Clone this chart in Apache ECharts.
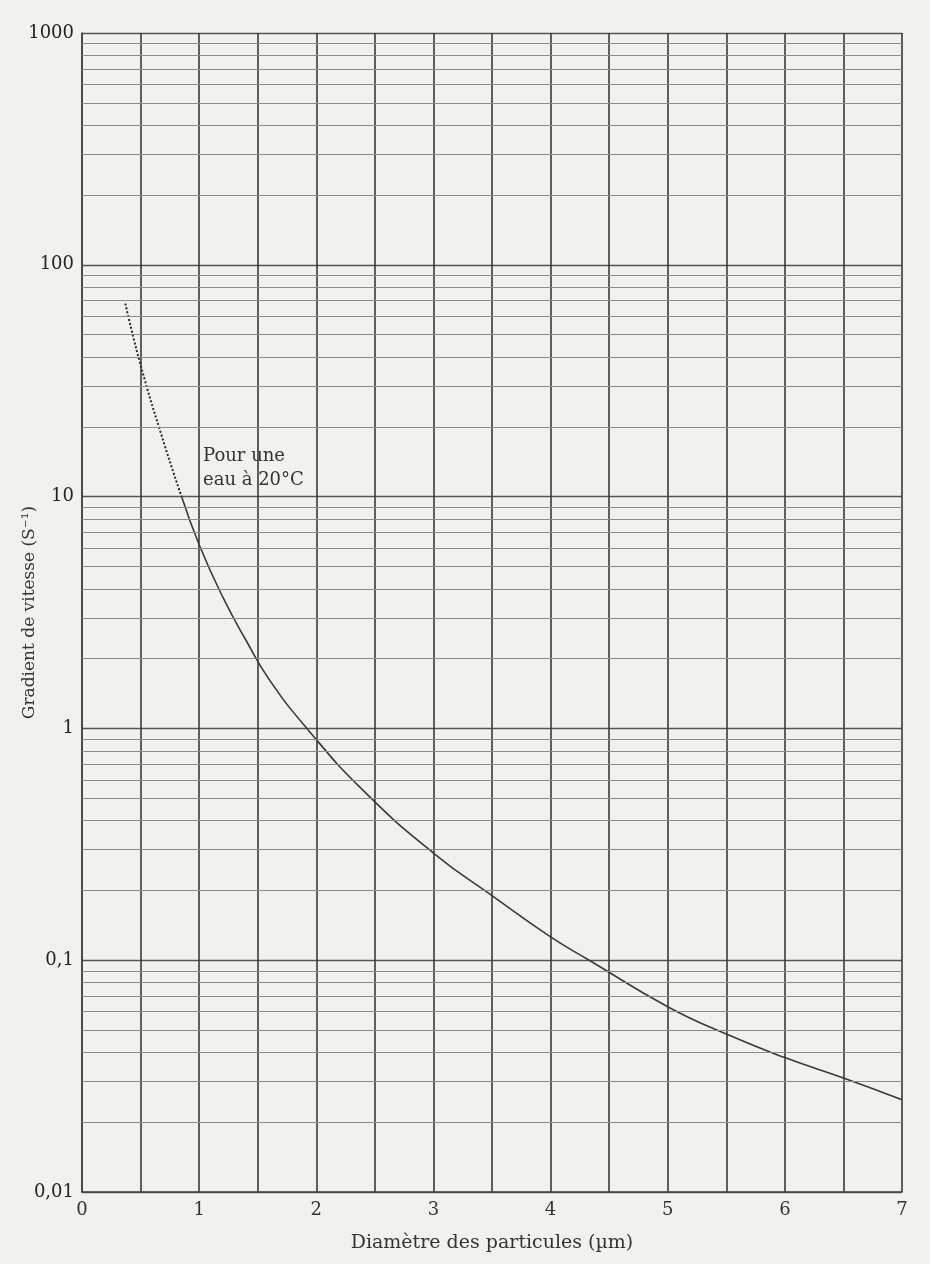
<!DOCTYPE html>
<html>
<head>
<meta charset="utf-8">
<script src="https://cdn.jsdelivr.net/npm/echarts@6/dist/echarts.min.js"></script>
<style>
  html, body { margin: 0; padding: 0; background: #f1f1ef; }
  #main { width: 930px; height: 1264px; }
</style>
</head>
<body>
<div id="main"></div>
<script>
// curve (diameter in µm, gradient in s^-1)
var dottedX = [0.37, 0.5, 0.7, 0.85];
var dottedY = [68, 37, 17, 10];
var curveX = [0.85, 1.0, 1.2, 1.4, 1.6, 1.92, 2.4, 3.0, 3.5, 4.0, 4.33, 5.0, 5.5, 6.0, 6.5, 7.0];
var curveY = [10, 6.2, 3.7, 2.4, 1.62, 1.0, 0.54, 0.29, 0.19, 0.126, 0.1, 0.063, 0.048, 0.038, 0.031, 0.025];
var decades = [0.01, 0.1, 1, 10, 100];

var chartDom = document.getElementById('main');
var myChart = echarts.init(chartDom);
var option;

// minor horizontal rules 2..9 inside each decade (paper grid)
var minorLines = [];
decades.forEach(function (d) {
    for (var k = 2; k <= 9; k++) {
        minorLines.push({ yAxis: +(d * k).toPrecision(3) });
    }
});

function pairs(xs, ys) {
    return xs.map(function (x, i) { return [x, ys[i]]; });
}

var serif = '"DejaVu Serif", "Liberation Serif", serif';

option = {
    backgroundColor: '#f1f1ef',
    animation: false,
    grid: {
        left: 82,
        right: 28,
        top: 33,
        bottom: 72,
        outerBoundsMode: 'none',
        containLabel: false
    },
    xAxis: {
        type: 'value',
        min: 0,
        max: 7,
        interval: 0.5,
        name: 'Diamètre des particules (µm)',
        nameLocation: 'middle',
        nameGap: 42,
        nameMoveOverlap: false,
        nameTextStyle: { fontFamily: serif, fontSize: 19, color: '#333' },
        axisLine: { show: true, lineStyle: { color: '#444', width: 1.5 } },
        axisTick: { show: false },
        axisLabel: {
            fontFamily: serif,
            fontSize: 18,
            color: '#333',
            margin: 9,
            formatter: function (v) {
                return Number.isInteger(v) ? String(v) : '';
            }
        },
        splitLine: { show: true, lineStyle: { color: '#3a3a3a', width: 1.6 } }
    },
    yAxis: {
        type: 'log',
        logBase: 10,
        min: 0.01,
        max: 1000,
        name: 'Gradient de vitesse (S⁻¹)',
        nameLocation: 'middle',
        nameGap: 44,
        nameMoveOverlap: false,
        nameTextStyle: { fontFamily: serif, fontSize: 17, color: '#333' },
        axisLine: { show: true, lineStyle: { color: '#444', width: 1.5 } },
        axisTick: { show: false },
        axisLabel: {
            fontFamily: serif,
            fontSize: 18,
            color: '#222',
            margin: 8,
            formatter: function (v) {
                return String(v).replace('.', ',');
            }
        },
        splitLine: { show: true, lineStyle: { color: '#555', width: 1.4 } }
    },
    graphic: [
        {
            type: 'text',
            left: 203,
            top: 444,
            style: {
                text: 'Pour une\neau à 20°C',
                font: '18px ' + serif,
                fill: '#333',
                lineHeight: 24
            }
        }
    ],
    series: [
        {
            name: 'grille',
            type: 'line',
            data: [],
            silent: true,
            markLine: {
                silent: true,
                symbol: 'none',
                label: { show: false },
                lineStyle: { color: '#8a8a8a', width: 1, type: 'solid' },
                data: minorLines
            }
        },
        {
            name: 'courbe pointillée',
            type: 'line',
            data: pairs(dottedX, dottedY),
            smooth: true,
            symbol: 'none',
            lineStyle: { color: '#2a2a2a', width: 2, type: [2, 2] }
        },
        {
            name: 'Pour une eau à 20°C',
            type: 'line',
            data: pairs(curveX, curveY),
            smooth: true,
            symbol: 'none',
            lineStyle: { color: '#3a3a3a', width: 1.6 }
        }
    ]
};

option && myChart.setOption(option);
</script>
</body>
</html>
